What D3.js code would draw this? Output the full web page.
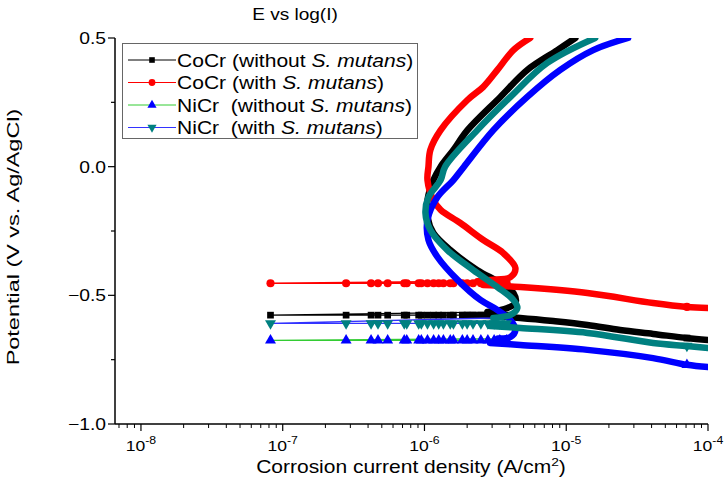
<!DOCTYPE html>
<html>
<head>
<meta charset="utf-8">
<script src="https://cdn.jsdelivr.net/npm/d3@7"></script>
<style>
  body { margin: 0; background: #fff; }
  text { font-family: Arial, "Liberation Sans", sans-serif; fill: #000; }
</style>
</head>
<body>
<svg id="chart" width="724" height="491"></svg>
<script>
// currents in A/cm2, potentials in V vs Ag/AgCl
var sparseI = [3.8e-6, 3.4e-6, 3.1e-6, 2.8e-6, 2.5e-6, 2.2e-6, 2.0e-6, 1.85e-6, 1.6e-6, 1.52e-6,
               1.36e-6, 1.26e-6, 1.16e-6, 1.05e-6, 9.5e-7, 9.1e-7, 7.5e-7, 7.2e-7, 5.5e-7,
               4.7e-7, 4.2e-7, 2.8e-7, 8.2e-8];
var cathodicMarkI = 7.1e-5;

var cocrWithoutCath = [[1e-4, -0.674], [7.1e-5, -0.666], [4.1e-5, -0.650], [2.4e-5, -0.635],
                       [1.41e-5, -0.615], [8.1e-6, -0.600], [4.74e-6, -0.588], [2.9e-6, -0.580],
                       [2.0e-6, -0.578]];
var cocrWithoutEcorr = -0.577;
var cocrWithoutAnod = [[2.78e-6, -0.565], [3.85e-6, -0.549], [4.38e-6, -0.530], [4.24e-6, -0.491],
                       [3.43e-6, -0.452], [2.36e-6, -0.402], [1.52e-6, -0.324], [1.156e-6, -0.258],
                       [1.05e-6, -0.196], [1.05e-6, -0.130], [1.156e-6, -0.052], [1.3e-6, 0.0],
                       [1.6e-6, 0.065], [2.01e-6, 0.142], [3.43e-6, 0.271], [5.31e-6, 0.376],
                       [8.65e-6, 0.453], [1.16e-5, 0.5]];

var cocrWithCath = [[1e-4, -0.549], [7.1e-5, -0.545], [4.1e-5, -0.530], [1.41e-5, -0.491],
                    [4.74e-6, -0.468], [2.6e-6, -0.460]];
var cocrWithEcorr = -0.453;
var cocrWithAnod = [[2.36e-6, -0.445], [2.92e-6, -0.440], [4.04e-6, -0.429], [4.38e-6, -0.394],
                    [3.6e-6, -0.336], [2.6e-6, -0.285], [1.79e-6, -0.219], [1.3e-6, -0.168],
                    [1.156e-6, -0.130], [1.05e-6, -0.052], [1.067e-6, 0.0], [1.1e-6, 0.065],
                    [1.3e-6, 0.142], [2.01e-6, 0.259], [2.6e-6, 0.310], [3.27e-6, 0.376],
                    [4.24e-6, 0.453], [5.57e-6, 0.5]];

var nicrWithoutCath = [[1e-4, -0.779], [7.1e-5, -0.770], [4.1e-5, -0.744], [1.41e-5, -0.712],
                       [4.74e-6, -0.693], [2.9e-6, -0.685]];
var nicrWithoutEcorr = -0.675;
var nicrWithoutAnod = [[3.3e-6, -0.668], [4.04e-6, -0.662], [4.38e-6, -0.635], [4.04e-6, -0.596],
                       [3.27e-6, -0.557], [2.48e-6, -0.518], [1.71e-6, -0.440], [1.235e-6, -0.351],
                       [1.067e-6, -0.285], [1.05e-6, -0.207], [1.235e-6, -0.118], [1.6e-6, -0.052],
                       [1.9e-6, 0.0], [3.06e-6, 0.142], [5.31e-6, 0.271], [9.08e-6, 0.376],
                       [1.55e-5, 0.453], [2.73e-5, 0.5]];

var nicrWithCath = [[1e-4, -0.705], [7.1e-5, -0.697], [4.1e-5, -0.685], [1.41e-5, -0.646],
                    [4.74e-6, -0.627], [2.9e-6, -0.619]];
var nicrWithEcorr = -0.609;
var nicrWithAnod = [[3.06e-6, -0.588], [4.04e-6, -0.576], [4.52e-6, -0.549], [4.24e-6, -0.518],
                    [3.27e-6, -0.468], [2.21e-6, -0.402], [1.45e-6, -0.324], [1.1e-6, -0.246],
                    [1.016e-6, -0.180], [1.067e-6, -0.118], [1.3e-6, -0.052], [1.4e-6, 0.0],
                    [2.36e-6, 0.142], [4.04e-6, 0.271], [7.35e-6, 0.403], [1.6e-5, 0.5]];

var seriesNames = ["CoCr (without ", "CoCr (with ", "NiCr  (without ", "NiCr  (with "];
var lineColors = ["#000000", "#ff0000", "#33cc33", "#3333ff"];
var markColors = ["#000000", "#ff0000", "#0000ff", "#008080"];
var yTicks = [-1.0, -0.5, 0.0, 0.5];
var yMinorTicks = [-0.75, -0.25, 0.25];
var xDecades = [-8, -7, -6, -5, -4];

var series = [
  {cath: cocrWithoutCath, ecorr: cocrWithoutEcorr, anod: cocrWithoutAnod, sym: d3.symbolSquare, rot: 0, size: 45},
  {cath: cocrWithCath, ecorr: cocrWithEcorr, anod: cocrWithAnod, sym: d3.symbolCircle, rot: 0, size: 52},
  {cath: nicrWithoutCath, ecorr: nicrWithoutEcorr, anod: nicrWithoutAnod, sym: d3.symbolTriangle, rot: 0, size: 52},
  {cath: nicrWithCath, ecorr: nicrWithEcorr, anod: nicrWithAnod, sym: d3.symbolTriangle, rot: 180, size: 52}
];

var svg = d3.select("#chart"),
    margin = {top: 38, right: 16, bottom: 67, left: 115},
    width = +svg.attr("width") - margin.left - margin.right,
    height = +svg.attr("height") - margin.top - margin.bottom,
    g = svg.append("g").attr("transform", "translate(" + margin.left + "," + margin.top + ")");

var x = d3.scaleLog().domain([6.56e-9, 1e-4]).range([0, width]);
var y = d3.scaleLinear().domain([-1, 0.5]).range([height, 0]);

var line = d3.line()
    .x(function(d) { return x(d[0]); })
    .y(function(d) { return y(d[1]); });

// smoothed version for the dense branches
var smooth = d3.line()
    .x(function(d) { return x(d[0]); })
    .y(function(d) { return y(d[1]); })
    .curve(d3.curveCatmullRom.alpha(0.5));

// the picture's text is a bit wider than plain Arial, so stretch it sideways
function addText(parent, px, py, size, anchor, sx, rot) {
  return parent.append("g")
      .attr("transform", "translate(" + px + "," + py + ")" + (rot ? " rotate(" + rot + ")" : "") + " scale(" + sx + ",1)")
    .append("text")
      .attr("text-anchor", anchor)
      .attr("font-size", size);
}

g.append("defs").append("clipPath").attr("id", "clip")
  .append("rect").attr("width", width).attr("height", height);

var plot = g.append("g").attr("clip-path", "url(#clip)");

// series
series.forEach(function(s, i) {
  var sparse = sparseI.map(function(v) { return [v, s.ecorr]; });
  var all = s.cath.concat(sparse).concat(s.anod);

  plot.append("path").datum(all)
      .attr("d", line)
      .attr("fill", "none")
      .attr("stroke", lineColors[i])
      .attr("stroke-width", 1.3);

  [s.cath, s.anod].forEach(function(br) {
    plot.append("path").datum(br)
        .attr("d", smooth)
        .attr("fill", "none")
        .attr("stroke", markColors[i])
        .attr("stroke-width", 6.5)
        .attr("stroke-linejoin", "round")
        .attr("stroke-linecap", "round");
  });

  var marks = sparse.concat(s.cath.filter(function(d) { return d[0] == cathodicMarkI; }));
  plot.append("g").selectAll("path").data(marks).enter().append("path")
      .attr("d", d3.symbol().type(s.sym).size(s.size))
      .attr("transform", function(d) {
        return "translate(" + x(d[0]) + "," + y(d[1]) + ") rotate(" + s.rot + ")";
      })
      .attr("fill", markColors[i]);
});

// axes
var axisColor = "#000";
g.append("line").attr("x1", 0).attr("x2", 0).attr("y1", 0).attr("y2", height)
    .attr("stroke", axisColor).attr("stroke-width", 1.5);
g.append("line").attr("x1", 0).attr("x2", width).attr("y1", height).attr("y2", height)
    .attr("stroke", axisColor).attr("stroke-width", 1.5);

yTicks.forEach(function(t) {
  g.append("line").attr("x1", -7).attr("x2", 0).attr("y1", y(t)).attr("y2", y(t))
      .attr("stroke", axisColor).attr("stroke-width", 1.2);
  addText(g, -9, y(t) + 6, 16.5, "end", 1.17).text(d3.format(".1f")(t));
});
yMinorTicks.forEach(function(t) {
  g.append("line").attr("x1", -4).attr("x2", 0).attr("y1", y(t)).attr("y2", y(t))
      .attr("stroke", axisColor).attr("stroke-width", 1.2);
});

xDecades.forEach(function(k) {
  var v = Math.pow(10, k);
  g.append("line").attr("x1", x(v)).attr("x2", x(v)).attr("y1", height).attr("y2", height + 7)
      .attr("stroke", axisColor).attr("stroke-width", 1.2);
  var t = addText(g, x(v), height + 27, 15, "middle", 1.17);
  t.append("tspan").text("10");
  t.append("tspan").attr("dy", -7).attr("font-size", 10.5).text(k);
});
for (var k = -9; k < -4; k++) {
  for (var m = 2; m <= 9; m++) {
    var v = m * Math.pow(10, k);
    if (v < x.domain()[0] || v > x.domain()[1]) continue;
    g.append("line").attr("x1", x(v)).attr("x2", x(v)).attr("y1", height).attr("y2", height + 4)
        .attr("stroke", axisColor).attr("stroke-width", 1);
  }
}

// titles
addText(svg, 295, 20, 16, "middle", 1.19).text("E vs log(I)");

var xl = addText(svg, 411, 473, 17.5, "middle", 1.2);
xl.append("tspan").text("Corrosion current density (A/cm");
xl.append("tspan").attr("dy", -7).attr("font-size", 11.5).text("2");
xl.append("tspan").attr("dy", 7).text(")");

addText(svg, 19, 237, 17, "middle", 1.38, -90).text("Potential (V vs. Ag/AgCl)");

// legend
var lg = svg.append("g").attr("transform", "translate(122,43)");
lg.append("rect").attr("x", 0.5).attr("y", 0.5).attr("width", 295).attr("height", 95)
    .attr("fill", "#fff").attr("stroke", "#666").attr("stroke-width", 1);
series.forEach(function(s, i) {
  var ly = 17 + i * 22.5;
  lg.append("line").attr("x1", 6).attr("x2", 54).attr("y1", ly).attr("y2", ly)
      .attr("stroke", lineColors[i]).attr("stroke-width", 1);
  lg.append("path").attr("d", d3.symbol().type(s.sym).size(s.size * 0.7))
      .attr("transform", "translate(30," + ly + ") rotate(" + s.rot + ")")
      .attr("fill", markColors[i]);
  var t = addText(lg, 55, ly + 6.5, 18, "start", 1.17)
      .attr("xml:space", "preserve").style("white-space", "pre");
  t.append("tspan").text(seriesNames[i]);
  t.append("tspan").attr("font-style", "italic").text("S. mutans");
  t.append("tspan").text(")");
});
</script>
</body>
</html>
